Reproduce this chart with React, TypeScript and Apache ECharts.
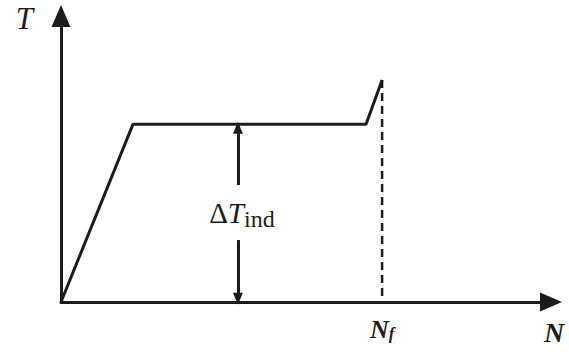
import React, { useEffect, useRef } from "react";
import * as echarts from "echarts";

// Schematic temperature curve: N (cycles, Nf = 100) vs T (relative units)
const curveN = [0, 22.4, 95, 100];
const curveT = [0, 80, 80, 100];
const failureN = 100;
const failureT = 100;
const deltaN = 55.1;
const xMax = 152.6;
const yMax = 128.8;

const INK = "#1c1c1c";
const SERIF = "Liberation Serif";

export default function App() {
  const ref = useRef<HTMLDivElement>(null);
  useEffect(() => {
    document.body.style.margin = "0";
    const chart = echarts.init(ref.current!, null, { renderer: "svg" });
    chart.setOption({
      animation: false,
      backgroundColor: "#ffffff",
      grid: { left: 61, top: 16, width: 490, height: 286, containLabel: false, outerBoundsMode: "none" },
      xAxis: {
        type: "value",
        min: 0,
        max: xMax,
        name: "N",
        nameLocation: "end",
        nameGap: -7,
        nameTextStyle: {
          fontFamily: SERIF, fontStyle: "italic", fontWeight: "bold", fontSize: 28, color: INK,
          align: "left", verticalAlign: "top", padding: [16, 0, 0, 0],
        },
        axisLine: { show: true, symbol: ["none", "triangle"], symbolSize: [19, 22], lineStyle: { color: INK, width: 3 } },
        axisTick: { show: false },
        axisLabel: { show: false },
        splitLine: { show: false },
      },
      yAxis: {
        type: "value",
        min: 0,
        max: yMax,
        name: "T",
        nameLocation: "end",
        nameGap: -2,
        nameTextStyle: {
          fontFamily: SERIF, fontStyle: "italic", fontSize: 31, color: INK,
          align: "right", verticalAlign: "middle", padding: [0, 28, 0, 0],
        },
        axisLine: { show: true, symbol: ["none", "triangle"], symbolSize: [19, 22], lineStyle: { color: INK, width: 3 } },
        axisTick: { show: false },
        axisLabel: { show: false },
        splitLine: { show: false },
      },
      series: [
        {
          type: "line",
          data: curveN.map((n, i) => [n, curveT[i]]),
          showSymbol: false,
          symbol: "none",
          lineStyle: { color: INK, width: 3 },
          z: 3,
        },
        {
          type: "line",
          data: [[failureN, failureT], [failureN, 0]],
          symbol: "none",
          lineStyle: { color: INK, width: 2.5, type: [8, 5] },
          z: 2,
          markPoint: {
            symbol: "circle",
            symbolSize: 1,
            itemStyle: { color: "transparent" },
            label: {
              show: true,
              position: "bottom",
              distance: 14,
              formatter: "{a|N}{b|f}",
              rich: {
                a: { fontFamily: SERIF, fontStyle: "italic", fontWeight: "bold", fontSize: 26, color: INK },
                b: { fontFamily: SERIF, fontStyle: "italic", fontWeight: "bold", fontSize: 17, color: INK, padding: [8, 0, 0, 0] },
              },
            },
            data: [{ coord: [failureN, 0] }],
          },
        },
        {
          type: "line",
          data: [],
          markLine: {
            silent: true,
            symbol: ["none", "triangle"],
            symbolSize: [10, 12],
            lineStyle: { color: INK, width: 3, type: "solid" },
            label: { show: false },
            data: [
              [{ coord: [deltaN, 52.7] }, { coord: [deltaN, 78.5] }],
              [{ coord: [deltaN, 27.9] }, { coord: [deltaN, 1.5] }],
            ],
          },
          markPoint: {
            symbol: "circle",
            symbolSize: 1,
            itemStyle: { color: "transparent" },
            label: {
              show: true,
              position: "inside",
              offset: [4, 0],
              formatter: "{a|Δ}{c|T}{b|ind}",
              rich: {
                a: { fontFamily: SERIF, fontSize: 29, color: INK },
                c: { fontFamily: SERIF, fontStyle: "italic", fontSize: 29, color: INK },
                b: { fontFamily: SERIF, fontSize: 24, color: INK, padding: [12, 0, 0, 0] },
              },
            },
            data: [{ coord: [deltaN, 40.3] }],
          },
        },
      ],
    });
    return () => chart.dispose();
  }, []);
  return <div ref={ref} style={{ width: 569, height: 354 }} />;
}
